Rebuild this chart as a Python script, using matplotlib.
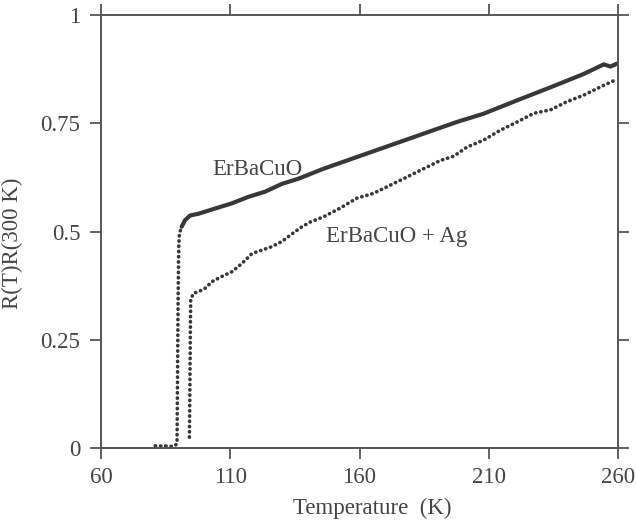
import matplotlib
matplotlib.use("Agg")
import matplotlib.pyplot as plt

# ErBaCuO: foot of the transition and the drop (drawn as dots)
er_tr_T = [81.0, 82.5, 84.0, 85.5, 87.0, 88.5, 89.4, 89.5, 89.6, 89.7, 89.8,
           89.9, 90.0, 90.1, 90.3, 90.6, 91.2]
er_tr_R = [0.005, 0.005, 0.004, 0.005, 0.004, 0.005, 0.010, 0.080, 0.160,
           0.240, 0.320, 0.380, 0.430, 0.470, 0.490, 0.500, 0.511]

# ErBaCuO: normal state (dense dots -> solid line)
er_T = [91.2, 92.5, 94.5, 97.7, 104.1, 110.6, 117.0, 123.5, 130.0, 136.4,
        146.1, 159.0, 171.9, 184.8, 197.7, 208.0, 221.0, 233.9, 246.8,
        254.5, 257.1, 259.7]
er_R = [0.511, 0.526, 0.537, 0.541, 0.553, 0.565, 0.580, 0.592, 0.610, 0.622,
        0.645, 0.672, 0.699, 0.726, 0.753, 0.772, 0.803, 0.833, 0.864,
        0.886, 0.881, 0.888]

# ErBaCuO + Ag
ag_T = [94.2, 94.3, 94.4, 94.5, 94.6, 94.7, 95.7, 97.7, 100.3, 102.9, 106.7,
        110.6, 114.5, 118.4, 122.2, 126.1, 130.0, 133.8, 137.7, 141.0, 146.1,
        152.5, 159.0, 165.4, 171.9, 178.4, 184.8, 191.3, 196.5, 201.6, 208.0,
        214.5, 221.0, 227.4, 233.9, 240.3, 246.8, 253.2, 259.0]
ag_R = [0.025, 0.080, 0.150, 0.220, 0.290, 0.342, 0.357, 0.361, 0.369, 0.384,
        0.396, 0.407, 0.426, 0.449, 0.457, 0.465, 0.477, 0.494, 0.511, 0.522,
        0.534, 0.554, 0.577, 0.588, 0.607, 0.626, 0.645, 0.664, 0.674, 0.695,
        0.711, 0.734, 0.753, 0.773, 0.781, 0.800, 0.815, 0.834, 0.850]

x_ticks = [60, 110, 160, 210, 260]
y_ticks = [0, 0.25, 0.5, 0.75, 1]
y_tick_labels = ["0", "0.25", "0.5", "0.75", "1"]

INK = "#383838"
TXT = "#444444"
FS = 16.5

plt.rcParams["font.family"] = ["Liberation Serif", "DejaVu Serif"]

fig = plt.figure(figsize=(6.36, 5.24), dpi=100)
ax = fig.add_axes([101 / 636, 1 - 448 / 524, 517 / 636, 433 / 524])

dots = dict(linestyle=(0, (0.1, 1.35)), dash_capstyle="round", lw=2.6,
            color=INK)
ax.plot(er_tr_T, er_tr_R, **dots)
ax.plot(er_T, er_R, color=INK, lw=3.0, solid_capstyle="round")
ax.plot(ag_T, ag_R, **dots)

ax.text(102.9, 0.63, "ErBaCuO", fontsize=FS, color=TXT, ha="left",
        va="baseline")
ax.text(146.9, 0.476, "ErBaCuO + Ag", fontsize=FS, color=TXT, ha="left",
        va="baseline")

ax.set_xlim(60, 260)
ax.set_ylim(0, 1)
ax.set_xticks(x_ticks)
ax.set_yticks(y_ticks)
ax.set_yticklabels(y_tick_labels)
ax.tick_params(direction="out", length=8, width=1.3, color="#555555",
               labelsize=FS, labelcolor=TXT, top=True, right=True,
               labeltop=False, labelright=False)
ax.tick_params(axis="y", pad=7)
ax.tick_params(axis="x", pad=6)
for s in ax.spines.values():
    s.set_color("#555555")
    s.set_linewidth(1.4)

ax.set_xlabel("Temperature  (K)", fontsize=FS, color=TXT)
ax.xaxis.set_label_coords(0.524, -0.115)
ax.set_ylabel("R(T)R(300 K)", fontsize=FS, color=TXT)
ax.yaxis.set_label_coords(-0.15, 0.473)

fig.savefig("out.png", dpi=100)
